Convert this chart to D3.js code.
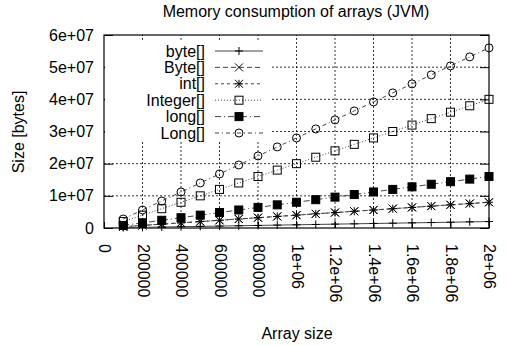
<!DOCTYPE html>
<html>
<head>
<meta charset="utf-8">
<script src="https://cdn.jsdelivr.net/npm/d3@7"></script>
<style>
  body { margin: 0; background: #fff; }
  text { font-family: "Liberation Sans", Arial, sans-serif; fill: #000; }
</style>
</head>
<body>
<svg id="chart" width="509" height="346"></svg>
<script>
// array sizes on x
var sizes = [100000, 200000, 300000, 400000, 500000, 600000, 700000, 800000, 900000, 1000000,
             1100000, 1200000, 1300000, 1400000, 1500000, 1600000, 1700000, 1800000, 1900000, 2000000];

var byteVals    = [100016, 200016, 300016, 400016, 500016, 600016, 700016, 800016, 900016, 1000016,
                   1100016, 1200016, 1300016, 1400016, 1500016, 1600016, 1700016, 1800016, 1900016, 2000016];
var ByteVals    = [400016, 800016, 1200016, 1600016, 2000016, 2400016, 2800016, 3200016, 3600016, 4000016,
                   4400016, 4800016, 5200016, 5600016, 6000016, 6400016, 6800016, 7200016, 7600016, 8000016];
var intVals     = [400016, 800016, 1200016, 1600016, 2000016, 2400016, 2800016, 3200016, 3600016, 4000016,
                   4400016, 4800016, 5200016, 5600016, 6000016, 6400016, 6800016, 7200016, 7600016, 8000016];
var IntegerVals = [2000000, 4000000, 6000000, 8000000, 10000000, 12000000, 14000000, 16000000, 18000000, 20000000,
                   22000000, 24000000, 26000000, 28000000, 30000000, 32000000, 34000000, 36000000, 38000000, 40000000];
var longVals    = [800016, 1600016, 2400016, 3200016, 4000016, 4800016, 5600016, 6400016, 7200016, 8000016,
                   8800016, 9600016, 10400016, 11200016, 12000016, 12800016, 13600016, 14400016, 15200016, 16000016];
var LongVals    = [2800000, 5600000, 8400000, 11200000, 14000000, 16800000, 19600000, 22400000, 25200000, 28000000,
                   30800000, 33600000, 36400000, 39200000, 42000000, 44800000, 47600000, 50400000, 53200000, 56000000];

var xTicks = [0, 200000, 400000, 600000, 800000, 1000000, 1200000, 1400000, 1600000, 1800000, 2000000];
var xTickLabels = ['0', '200000', '400000', '600000', '800000', '1e+06', '1.2e+06', '1.4e+06', '1.6e+06', '1.8e+06', '2e+06'];
var yTicks = [0, 10000000, 20000000, 30000000, 40000000, 50000000, 60000000];
var yTickLabels = ['0', '1e+07', '2e+07', '3e+07', '4e+07', '5e+07', '6e+07'];

var series = [
    { name: 'byte[]',    values: byteVals,    dash: null,            marker: 'plus' },
    { name: 'Byte[]',    values: ByteVals,    dash: '5,3',           marker: 'cross' },
    { name: 'int[]',     values: intVals,     dash: '3,3',           marker: 'star' },
    { name: 'Integer[]', values: IntegerVals, dash: '1,2',           marker: 'box' },
    { name: 'long[]',    values: longVals,    dash: '6,3,1,3',       marker: 'fbox' },
    { name: 'Long[]',    values: LongVals,    dash: '4,3,1,3',       marker: 'circle' }
];

var FS = '16px';
var margin = { left: 104, right: 20, top: 35, bottom: 118 };
var W = 509, H = 346;
var svg = d3.select('#chart');

var x = d3.scaleLinear().domain([0, 2000000]).range([margin.left, W - margin.right]);
var y = d3.scaleLinear().domain([0, 60000000]).range([H - margin.bottom, margin.top]);

// grid
var grid = svg.append('g').attr('stroke', '#000').attr('stroke-width', 0.8).attr('stroke-dasharray', '2,2');
grid.selectAll('.vg').data(xTicks.slice(1, -1)).enter().append('line')
    .attr('x1', d => x(d)).attr('x2', d => x(d))
    .attr('y1', y(0)).attr('y2', y(60000000));
grid.selectAll('.hg').data(yTicks.slice(1, -1)).enter().append('line')
    .attr('y1', d => y(d)).attr('y2', d => y(d))
    .attr('x1', x(0)).attr('x2', x(2000000));

// axes via d3 axis, ticks inward
var yAxis = d3.axisLeft(y).tickValues(yTicks).tickSizeInner(-9).tickSizeOuter(0)
    .tickFormat((d, i) => yTickLabels[i]);
var gy = svg.append('g').attr('transform', 'translate(' + x(0) + ',0)').call(yAxis);
gy.select('.domain').remove();
gy.selectAll('text').attr('x', -10).style('font-size', FS)
    .style('font-family', '"Liberation Sans", Arial, sans-serif');
gy.selectAll('line').attr('stroke', '#000');

var yAxisR = d3.axisRight(y).tickValues(yTicks).tickSizeInner(-9).tickSizeOuter(0).tickFormat('');
var gyr = svg.append('g').attr('transform', 'translate(' + x(2000000) + ',0)').call(yAxisR);
gyr.select('.domain').remove();

var xAxis = d3.axisBottom(x).tickValues(xTicks).tickSizeInner(-6).tickSizeOuter(0)
    .tickFormat((d, i) => xTickLabels[i]);
var gx = svg.append('g').attr('transform', 'translate(0,' + y(0) + ')').call(xAxis);
gx.select('.domain').remove();
gx.selectAll('text')
    .attr('y', 0).attr('x', 0).attr('dy', null)
    .attr('text-anchor', 'start')
    .attr('dominant-baseline', 'central')
    .attr('transform', 'translate(0,16) rotate(90)')
    .style('font-size', FS)
    .style('font-family', '"Liberation Sans", Arial, sans-serif');

// frame
svg.append('rect')
    .attr('x', x(0)).attr('y', y(60000000))
    .attr('width', x(2000000) - x(0)).attr('height', y(0) - y(60000000))
    .attr('fill', 'none').attr('stroke', '#000').attr('stroke-width', 1.2);

function drawMarker(g, type, cx, cy) {
    var s = 4;
    if (type === 'plus') {
        g.append('path').attr('d', 'M' + (cx - s) + ',' + cy + 'H' + (cx + s) + 'M' + cx + ',' + (cy - s) + 'V' + (cy + s))
            .attr('stroke', '#000').attr('fill', 'none');
    } else if (type === 'cross') {
        g.append('path').attr('d', 'M' + (cx - s) + ',' + (cy - s) + 'L' + (cx + s) + ',' + (cy + s) +
            'M' + (cx - s) + ',' + (cy + s) + 'L' + (cx + s) + ',' + (cy - s))
            .attr('stroke', '#000').attr('fill', 'none');
    } else if (type === 'star') {
        g.append('path').attr('d', 'M' + (cx - s) + ',' + cy + 'H' + (cx + s) + 'M' + cx + ',' + (cy - s) + 'V' + (cy + s) +
            'M' + (cx - s) + ',' + (cy - s) + 'L' + (cx + s) + ',' + (cy + s) +
            'M' + (cx - s) + ',' + (cy + s) + 'L' + (cx + s) + ',' + (cy - s))
            .attr('stroke', '#000').attr('fill', 'none');
    } else if (type === 'box' || type === 'fbox') {
        g.append('rect').attr('x', cx - s).attr('y', cy - s).attr('width', 2 * s).attr('height', 2 * s)
            .attr('stroke', '#000').attr('fill', type === 'fbox' ? '#000' : 'none');
    } else if (type === 'circle') {
        g.append('circle').attr('cx', cx).attr('cy', cy).attr('r', s)
            .attr('stroke', '#000').attr('fill', 'none');
    }
}

var line = d3.line().x(d => x(d[0])).y(d => y(d[1]));

series.forEach(function(s) {
    var pts = sizes.map((n, i) => [n, s.values[i]]);
    var g = svg.append('g');
    g.append('path').datum(pts).attr('d', line)
        .attr('fill', 'none').attr('stroke', '#444').attr('stroke-width', 1)
        .attr('stroke-dasharray', s.dash);
    pts.forEach(p => drawMarker(g, s.marker, x(p[0]), y(p[1])));
});

// legend (opaque)
var legend = svg.append('g');
legend.append('rect').attr('x', x(0) + 1).attr('y', 40).attr('width', 166).attr('height', 101).attr('fill', '#fff');
series.forEach(function(s, i) {
    var ly = 51 + i * 16.4;
    legend.append('text').attr('x', 205).attr('y', ly).attr('dy', '0.35em')
        .attr('text-anchor', 'end').style('font-size', FS).text(s.name);
    legend.append('line').attr('x1', 215).attr('x2', 263).attr('y1', ly).attr('y2', ly)
        .attr('stroke', '#444').attr('stroke-dasharray', s.dash);
    drawMarker(legend, s.marker, 239, ly);
});

// titles
svg.append('text').attr('x', 296).attr('y', 17).attr('text-anchor', 'middle')
    .style('font-size', FS).text('Memory consumption of arrays (JVM)');
svg.append('text').attr('transform', 'translate(24,132) rotate(-90)').attr('text-anchor', 'middle')
    .style('font-size', FS).text('Size [bytes]');
svg.append('text').attr('x', 297).attr('y', 339).attr('text-anchor', 'middle')
    .style('font-size', FS).text('Array size');
</script>
</body>
</html>
